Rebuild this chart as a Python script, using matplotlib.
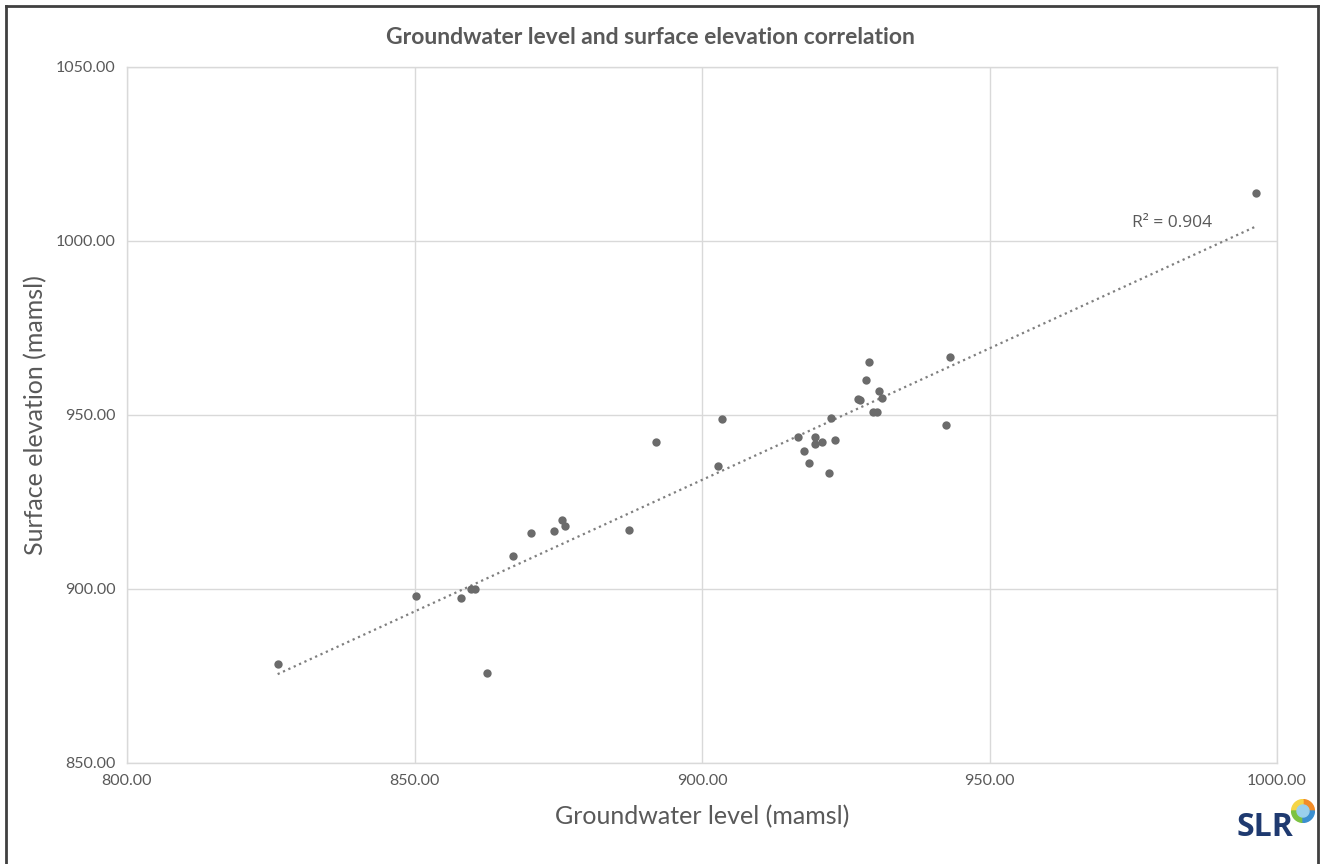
import matplotlib
matplotlib.use('Agg')

import matplotlib.pyplot as plt
import numpy as np
from matplotlib.patches import Wedge
from matplotlib.lines import Line2D

groundwater = [826.2, 850.3, 858.1, 859.9, 860.5, 862.6, 867.2, 870.3, 874.3, 875.6,
               876.2, 887.3, 892.0, 902.7, 903.4, 916.7, 917.7, 918.6, 919.6, 919.7,
               920.9, 922.0, 922.4, 923.2, 927.1, 927.5, 928.6, 929.0, 929.7, 930.5,
               930.7, 931.3, 942.5, 943.2, 996.4]
surface = [878.4, 897.9, 897.3, 899.9, 900.0, 876.0, 909.5, 916.2, 916.6, 919.7,
           918.2, 917.0, 942.3, 935.3, 948.9, 943.6, 939.7, 936.2, 943.8, 941.7,
           942.1, 933.4, 949.2, 942.8, 954.5, 954.2, 960.0, 965.2, 950.9, 950.9,
           957.0, 954.8, 947.1, 966.8, 1013.7]
r2_label = 'R² = 0.904'

x_ticks = [800, 850, 900, 950, 1000]
y_ticks = [850, 900, 950, 1000, 1050]

text_color = '#595959'
grid_color = '#d9d9d9'
font = 'Lato'

fig = plt.figure(figsize=(13.22, 8.64), dpi=100)
ax = fig.add_axes([127 / 1322, 1 - 763 / 864, 1150 / 1322, 696 / 864])

x = np.array(groundwater)
y = np.array(surface)
ax.scatter(x, y, s=36, color='#6b6b6b', zorder=3, linewidths=0)

# Линия тренда
k, b = np.polyfit(x, y, 1)
xs = np.array([x.min(), x.max()])
ax.plot(xs, k * xs + b, linestyle=':', color='#7f7f7f', linewidth=1.6, zorder=2)
ax.text(974.8, 1005.3, r2_label, fontsize=12.5, color=text_color,
        family=['Open Sans', 'DejaVu Sans'], va='center', ha='left')

ax.set_xlim(800, 1000)
ax.set_ylim(850, 1050)
ax.set_xticks(x_ticks)
ax.set_yticks(y_ticks)
ax.set_xticklabels([f'{v:.2f}' for v in x_ticks])
ax.set_yticklabels([f'{v:.2f}' for v in y_ticks])
ax.tick_params(length=0, labelsize=11.5, labelcolor=text_color, pad=8)
for lbl in ax.get_xticklabels() + ax.get_yticklabels():
    lbl.set_family(font)
ax.grid(True, color=grid_color, linewidth=1)
for s in ax.spines.values():
    s.set_color(grid_color)
    s.set_linewidth(1)

ax.set_xlabel('Groundwater level (mamsl)', fontsize=18, color=text_color, family=font, labelpad=12)
ax.set_ylabel('Surface elevation (mamsl)', fontsize=18, color=text_color, family=font, labelpad=6)
fig.text(0.492, 1 - 38 / 864, 'Groundwater level and surface elevation correlation',
         fontsize=16.5, fontweight='bold', color=text_color, family=font, ha='center', va='center')

# Рамка вокруг рисунка
for xx0, yy0, xx1, yy1 in [(6, 6, 1318, 6), (6, 6, 6, 864), (1318, 6, 1318, 864)]:
    fig.add_artist(Line2D([xx0 / 1322, xx1 / 1322], [1 - yy0 / 864, 1 - yy1 / 864],
                          color='#404040', linewidth=2, transform=fig.transFigure))

# Логотип SLR
fig.text(1293 / 1322, 1 - 827 / 864, 'SLR', fontsize=23, fontweight='bold', color='#1f3a70',
         family='Open Sans', ha='right', va='center')
lax = fig.add_axes([1291 / 1322, 1 - 823 / 864, 24 / 1322, 24 / 864])
lax.set_xlim(-1, 1)
lax.set_ylim(-1, 1)
lax.set_aspect('equal')
lax.axis('off')
for t1, t2, c in [(0, 90, '#f28c28'), (90, 180, '#f5d547'), (180, 270, '#7cc242'), (270, 360, '#3b8fd0')]:
    lax.add_patch(Wedge((0, 0), 0.95, t1, t2, color=c))
lax.add_patch(Wedge((0, 0), 0.5, 0, 360, color='#9ad0ec'))

fig.savefig('out.png', dpi=100, facecolor='white')
print('Saved out.png')
